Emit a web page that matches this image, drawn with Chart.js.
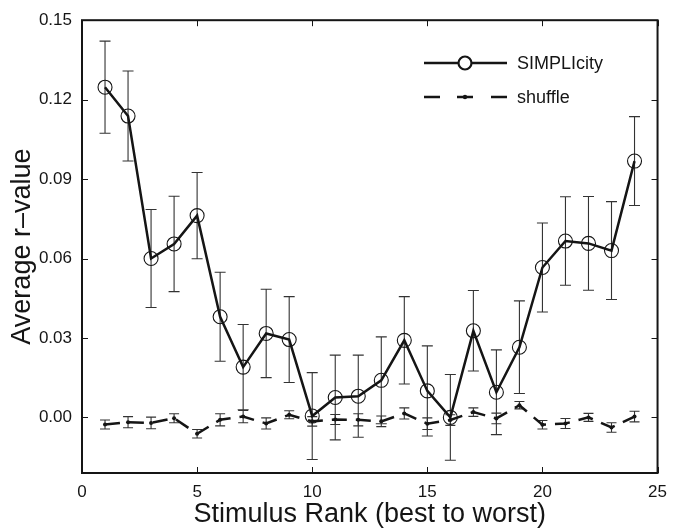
<!DOCTYPE html>
<html>
<head>
<meta charset="utf-8">
<script src="https://cdn.jsdelivr.net/npm/chart.js@4"></script>
<style>
html,body{margin:0;padding:0;background:#fff;}
#wrap{width:676px;height:528px;}
</style>
</head>
<body>
<div id="wrap"><canvas id="c" width="676" height="528"></canvas></div>
<script>
// ---- data ----
const ranks = [1,2,3,4,5,6,7,8,9,10,11,12,13,14,15,16,17,18,19,20,21,22,23,24];
const simplicity = [0.1247,0.1138,0.0600,0.0655,0.0762,0.0380,0.0190,0.0317,0.0294,0.0005,0.0075,0.0080,0.0140,0.0291,0.0100,0.0000,0.0327,0.0095,0.0265,0.0566,0.0666,0.0657,0.0630,0.0968];
const simplicityErr = [0.0174,0.0170,0.0185,0.0180,0.0163,0.0168,0.0161,0.0167,0.0162,0.0164,0.0160,0.0155,0.0164,0.0165,0.0170,0.0162,0.0152,0.0160,0.0175,0.0168,0.0167,0.0177,0.0185,0.0168];
const shuffle = [-0.0027,-0.0018,-0.0021,-0.0003,-0.0062,-0.0009,0.0003,-0.0023,0.0010,-0.0015,-0.0008,-0.0009,-0.0015,0.0015,-0.0024,-0.0010,0.0020,-0.0004,0.0046,-0.0028,-0.0023,0.0000,-0.0038,0.0003];
const shuffleErr = [0.0017,0.0021,0.0022,0.0017,0.0016,0.0023,0.0023,0.0021,0.0015,0.0018,0.0019,0.0023,0.0020,0.0021,0.0022,0.0020,0.0016,0.0020,0.0014,0.0016,0.0019,0.0015,0.0018,0.0020];
const yTicks = [0.00,0.03,0.06,0.09,0.12,0.15];
const xTicks = [0,5,10,15,20,25];
const seriesNames = ['SIMPLIcity','shuffle'];
const xTitle = 'Stimulus Rank (best to worst)';
const yTitle = 'Average r\u2013value';

const FONT = "'Liberation Sans', Arial, Helvetica, sans-serif";
const INK = '#151515';

const toPts = (vals, errs) => ranks.map((r,i)=>({x:r, y:vals[i], e:errs[i]}));

const errorBars = {
  id:'errorBars',
  beforeDatasetsDraw(chart){
    const ctx = chart.ctx, xs = chart.scales.x, ys = chart.scales.y;
    ctx.save();
    ctx.strokeStyle = '#333';
    ctx.lineWidth = 1.1;
    chart.data.datasets.forEach(ds=>{
      const cap = ds.capHalf;
      ds.data.forEach(p=>{
        const x = xs.getPixelForValue(p.x);
        const y1 = ys.getPixelForValue(p.y + p.e);
        const y2 = ys.getPixelForValue(p.y - p.e);
        ctx.beginPath();
        ctx.moveTo(x,y1); ctx.lineTo(x,y2);
        ctx.moveTo(x-cap,y1); ctx.lineTo(x+cap,y1);
        ctx.moveTo(x-cap,y2); ctx.lineTo(x+cap,y2);
        ctx.stroke();
      });
    });
    ctx.restore();
  }
};

const frame = {
  id:'frame',
  afterDraw(chart){
    const ctx = chart.ctx, a = chart.chartArea, xs = chart.scales.x, ys = chart.scales.y;
    ctx.save();
    ctx.strokeStyle = INK;
    ctx.lineWidth = 1;
    const tl = 6;
    ctx.beginPath();
    yTicks.forEach(v=>{
      const y = Math.round(ys.getPixelForValue(v))+0.5;
      ctx.moveTo(a.left, y); ctx.lineTo(a.left+tl, y);
      ctx.moveTo(a.right, y); ctx.lineTo(a.right-tl, y);
    });
    xTicks.forEach(v=>{
      const x = Math.round(xs.getPixelForValue(v))+0.5;
      ctx.moveTo(x, a.bottom); ctx.lineTo(x, a.bottom-tl);
      ctx.moveTo(x, a.top); ctx.lineTo(x, a.top+tl);
    });
    ctx.stroke();
    ctx.lineWidth = 2;
    ctx.strokeRect(a.left, a.top, a.right-a.left, a.bottom-a.top);

    // legend
    const lx0 = 424, lx1 = 507, mx = 465, tx = 517;
    const rows = [63, 97];
    ctx.lineWidth = 2.5;
    ctx.strokeStyle = INK;
    ctx.beginPath(); ctx.moveTo(lx0, rows[0]); ctx.lineTo(lx1, rows[0]); ctx.stroke();
    ctx.fillStyle = '#fff';
    ctx.lineWidth = 2.2;
    ctx.beginPath(); ctx.arc(mx, rows[0], 6.5, 0, Math.PI*2); ctx.fill(); ctx.stroke();
    ctx.lineWidth = 2.5;
    ctx.beginPath();
    ctx.moveTo(lx0, rows[1]); ctx.lineTo(lx0+16, rows[1]);
    ctx.moveTo(mx-8, rows[1]); ctx.lineTo(mx+8, rows[1]);
    ctx.moveTo(lx1-16, rows[1]); ctx.lineTo(lx1, rows[1]);
    ctx.stroke();
    ctx.fillStyle = INK;
    ctx.beginPath(); ctx.arc(mx, rows[1], 2.2, 0, Math.PI*2); ctx.fill();
    ctx.font = "18px " + FONT;
    ctx.textBaseline = 'middle';
    ctx.textAlign = 'left';
    ctx.fillText(seriesNames[0], tx, rows[0]+1);
    ctx.fillText(seriesNames[1], tx, rows[1]+1);
    ctx.restore();
  }
};

new Chart(document.getElementById('c'), {
  type:'line',
  data:{
    datasets:[
      {label:seriesNames[0], data:toPts(simplicity, simplicityErr), borderColor:INK, borderWidth:2.5,
       pointStyle:'circle', pointRadius:7, pointBorderWidth:1.1, pointBorderColor:INK,
       pointBackgroundColor:'rgba(0,0,0,0)', capHalf:5.5, tension:0},
      {label:seriesNames[1], data:toPts(shuffle, shuffleErr), borderColor:INK, borderWidth:2.5,
       borderDash:[15,9], pointStyle:'circle', pointRadius:2, pointBorderWidth:0,
       pointBackgroundColor:INK, capHalf:5, tension:0}
    ]
  },
  options:{
    responsive:false,
    animation:false,
    layout:{padding:{top:20, right:13, left:0, bottom:0}},
    plugins:{legend:{display:false}, tooltip:{enabled:false}},
    scales:{
      x:{type:'linear', min:0, max:25,
         afterBuildTicks(s){ s.ticks = xTicks.map(v=>({value:v})); },
         afterFit(s){ s.height = 55; },
         grid:{display:false, drawTicks:false}, border:{display:false},
         ticks:{color:INK, font:{family:FONT, size:17}, padding:9, maxRotation:0,
                callback:v=>String(v)},
         title:{display:true, text:xTitle, color:INK, font:{family:FONT, size:27, lineHeight:1}, padding:{top:0,bottom:0}}
      },
      y:{type:'linear', min:-0.021, max:0.15,
         afterBuildTicks(s){ s.ticks = yTicks.map(v=>({value:v})); },
         afterFit(s){ s.width = 82; },
         grid:{display:false, drawTicks:false}, border:{display:false},
         ticks:{color:INK, font:{family:FONT, size:17}, padding:10,
                callback:v=>Number(v).toFixed(2)},
         title:{display:true, text:yTitle, color:INK, font:{family:FONT, size:27, lineHeight:1}, padding:{top:9,bottom:0}}
      }
    }
  },
  plugins:[errorBars, frame]
});
</script>
</body>
</html>
